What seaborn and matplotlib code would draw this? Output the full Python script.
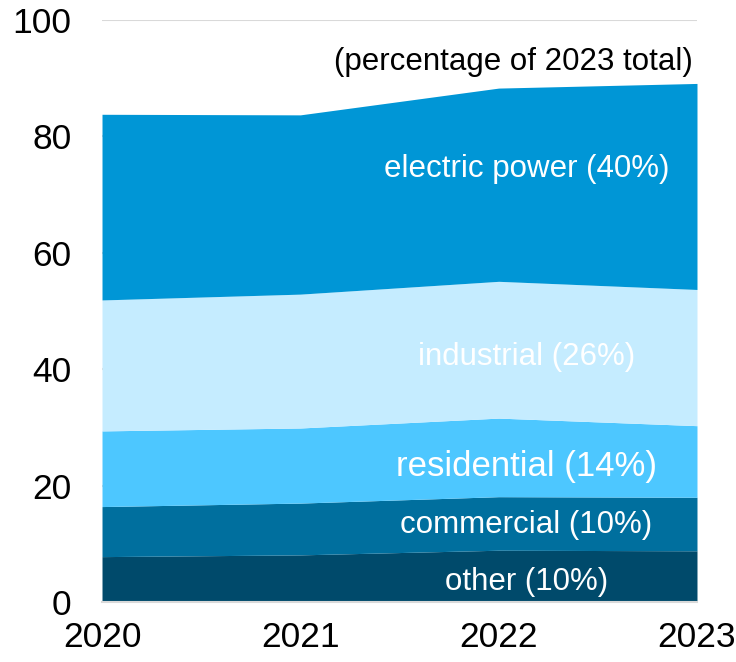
import numpy as np
import matplotlib
matplotlib.use("Agg")
import matplotlib.pyplot as plt
import seaborn as sns

years = [2020, 2021, 2022, 2023]

other = [7.8, 8.1, 8.9, 8.8]
commercial = [8.6, 8.9, 9.2, 9.2]
residential = [13.0, 12.9, 13.5, 12.3]
industrial = [22.5, 23.0, 23.5, 23.4]
electric_power = [31.9, 30.8, 33.2, 35.4]

labels = ["other (10%)", "commercial (10%)", "residential (14%)",
          "industrial (26%)", "electric power (40%)"]
colors = ["#004a6b", "#006f9e", "#4dc7ff", "#c5ecff", "#0096d6"]

sns.set_style("white")
plt.rcParams["font.family"] = ["Liberation Sans", "DejaVu Sans"]

fig = plt.figure(figsize=(7.36, 6.62), dpi=100)
ax = fig.add_axes([0.1386, 0.0906, 0.8084, 0.8792])

ax.stackplot(years, other, commercial, residential, industrial,
             electric_power, colors=colors, linewidth=0, zorder=2)

ax.set_xlim(2020, 2023)
ax.set_ylim(0, 100)
ax.set_yticks([0, 20, 40, 60, 80, 100])
ax.set_xticks(years)
ax.yaxis.grid(True, color="#d9d9d9", linewidth=1.5, zorder=0)
ax.tick_params(axis="both", length=0, labelsize=25.5, colors="black")
ax.tick_params(axis="y", pad=22)
ax.tick_params(axis="x", pad=14)
for s in ["top", "right", "left"]:
    ax.spines[s].set_visible(False)
ax.spines["bottom"].set_color("#d9d9d9")
ax.spines["bottom"].set_linewidth(1.5)
ax.spines["bottom"].set_zorder(3)

# labels inside the layers
label_x = 2022.14
label_y = [3.4, 13.2, 23.3, 42.1, 74.4]
label_size = [22.5, 22.5, 25, 22.5, 22.5]
for lab, yy, fs in zip(labels, label_y, label_size):
    ax.text(label_x, yy, lab, color="white", fontsize=fs,
            ha="center", va="center", zorder=4)

ax.text(2022.98, 92.8, "(percentage of 2023 total)", color="black",
        fontsize=22.5, ha="right", va="center", zorder=4)

fig.savefig("out.png", dpi=100)
